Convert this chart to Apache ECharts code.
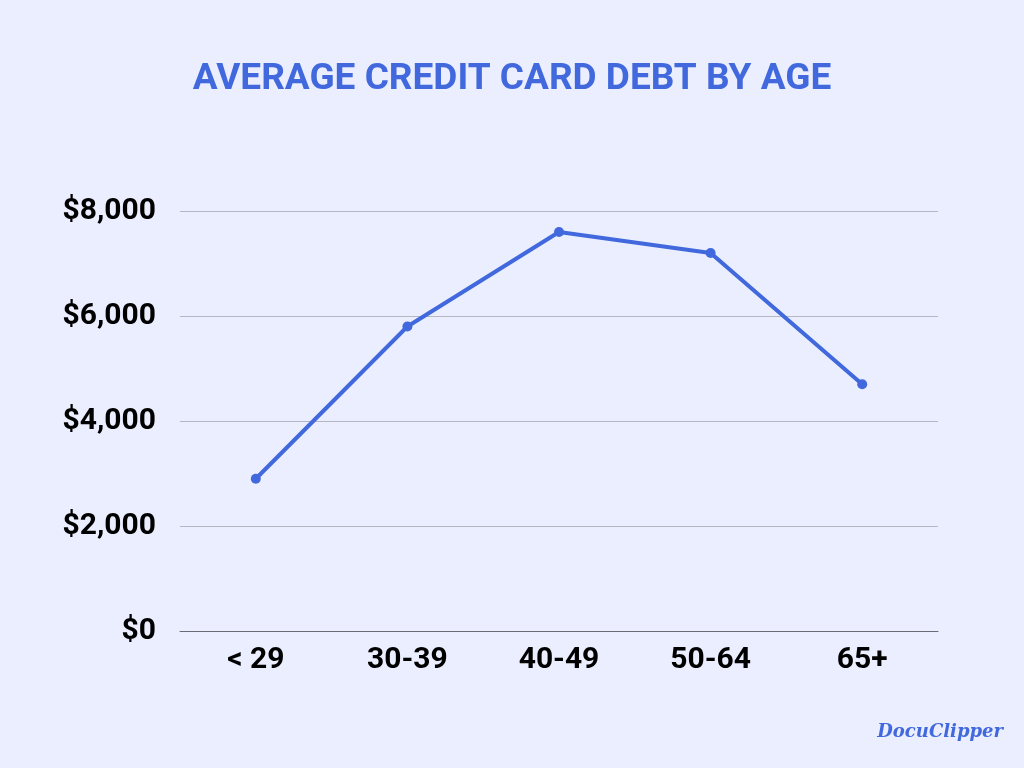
<!DOCTYPE html>
<html><head><meta charset="utf-8">
<script src="https://cdn.jsdelivr.net/npm/echarts@6/dist/echarts.min.js"></script>
<style>html,body{margin:0;padding:0;background:#EBEEFE;}#c{width:1024px;height:768px;}</style>
</head><body><div id="c"></div>
<script>
const categories = ['< 29', '30-39', '40-49', '50-64', '65+'];
const debtValues = [2900, 5800, 7600, 7200, 4700];
const yTicks = [0, 2000, 4000, 6000, 8000];

const chart = echarts.init(document.getElementById('c'));
chart.setOption({
  backgroundColor: '#EBEEFE',
  animation: false,
  title: [{
    text: 'AVERAGE CREDIT CARD DEBT BY AGE',
    left: 'center', top: 56,
    textStyle: {fontFamily: 'Roboto', fontWeight: 'bold', fontSize: 37, color: '#4169DD'}
  }, {
    text: 'DocuClipper',
    right: 16, top: 718,
    textStyle: {fontFamily: 'DejaVu Serif', fontStyle: 'italic', fontWeight: 'bold', fontSize: 18, color: '#4169DD'}
  }],
  grid: {left: 180, right: 86, top: 211, bottom: 137},
  xAxis: {
    type: 'category', data: categories, boundaryGap: true,
    axisLine: {lineStyle: {color: '#6b6b75', width: 1}},
    axisTick: {show: false},
    axisLabel: {fontFamily: 'Roboto', fontWeight: 'bold', fontSize: 30, color: '#000', margin: 14}
  },
  yAxis: {
    type: 'value', min: yTicks[0], max: yTicks[yTicks.length - 1], interval: 2000,
    axisLine: {show: false}, axisTick: {show: false},
    splitLine: {lineStyle: {color: '#b4b6c2', width: 1}},
    axisLabel: {fontFamily: 'Roboto', fontWeight: 'bold', fontSize: 30, color: '#000', margin: 24,
      formatter: v => '$' + v.toLocaleString('en-US')}
  },
  series: [{
    type: 'line', data: debtValues,
    lineStyle: {color: '#4169DD', width: 4},
    itemStyle: {color: '#4169DD'},
    symbol: 'circle', symbolSize: 10
  }]
});
</script></body></html>
